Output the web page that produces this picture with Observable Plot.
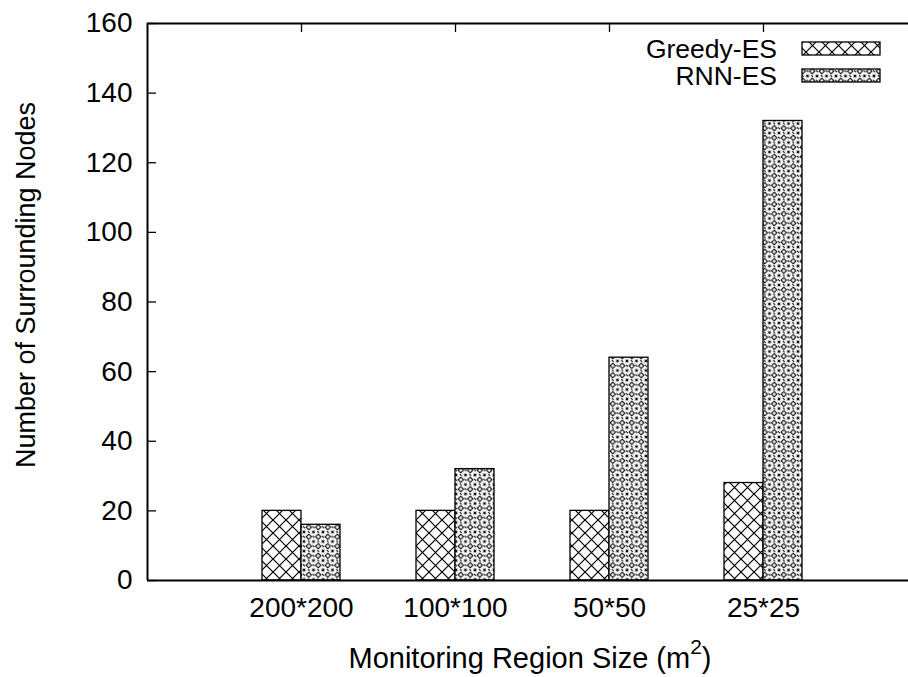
<!DOCTYPE html>
<html><head><meta charset="utf-8">
<script src="https://cdn.jsdelivr.net/npm/d3@7"></script>
<script src="https://cdn.jsdelivr.net/npm/@observablehq/plot@0.6"></script>
<style>body{margin:0;background:#fff;overflow:hidden} svg{display:block}</style>
</head><body><div id="chart"></div>
<script>
// ---- data ----
const categories = ["200*200", "100*100", "50*50", "25*25"];
const greedyES = [20, 20, 20, 28];
const rnnES = [16, 32, 64, 132];
const yTicks = [0, 20, 40, 60, 80, 100, 120, 140, 160];
const seriesNames = ["Greedy-ES", "RNN-ES"];
const xLabel = "Monitoring Region Size (m";
const yLabel = "Number of Surrounding Nodes";

// ---- layout ----
const W = 908, H = 677;
const mL = 147, mT = 23, mB = 97, mR = 0;
const pxPerCat = 154;
const xMax = (W - mL - mR) / pxPerCat;
const barW = 39 / pxPerCat;
const pxPerY = (H - mT - mB) / 160;
const tickLenX = 9 / pxPerCat, tickLenY = 9 / pxPerY;
const FONT = "'Liberation Sans', Arial, Helvetica, sans-serif";
const FS = 28;

const catPos = categories.map((c, i) => i + 1);
const greedyRows = categories.map((c, i) => ({cat: c, pos: i + 1, value: greedyES[i]}));
const rnnRows = categories.map((c, i) => ({cat: c, pos: i + 1, value: rnnES[i]}));

const chart = Plot.plot({
  width: W, height: H,
  marginLeft: mL, marginTop: mT, marginBottom: mB, marginRight: mR,
  style: {fontFamily: FONT, fontSize: FS + "px", color: "black", background: "white", overflow: "hidden"},
  x: {domain: [0, xMax], ticks: catPos, tickFormat: d => categories[d - 1], tickSize: 0, tickPadding: 17, label: null},
  y: {domain: [0, 160], ticks: yTicks, tickSize: 0, tickPadding: 15, label: null},
  marks: [
    Plot.rectY(greedyRows, {x1: d => d.pos - barW, x2: d => d.pos, y1: 0, y2: "value", fill: "url(#pat-greedy)", stroke: "black", strokeWidth: 1.3}),
    Plot.rectY(rnnRows, {x1: d => d.pos, x2: d => d.pos + barW, y1: 0, y2: "value", fill: "url(#pat-rnn)", stroke: "black", strokeWidth: 1.3}),
    // inward tick marks
    Plot.ruleY(yTicks, {y: d => d, x1: 0, x2: tickLenX, stroke: "black", strokeWidth: 1.3}),
    Plot.ruleX(catPos, {x: d => d, y1: 160, y2: 160 - tickLenY, stroke: "black", strokeWidth: 1.3}),
    // frame (right edge lies outside the picture)
    Plot.ruleY([0, 160], {stroke: "black", strokeWidth: 2}),
    Plot.ruleX([0], {stroke: "black", strokeWidth: 2})
  ]
});

const svg = d3.select(chart);
// patterns
const defs = svg.insert("defs", ":first-child");
const pg = defs.append("pattern").attr("id", "pat-greedy").attr("patternUnits", "userSpaceOnUse")
  .attr("width", 13).attr("height", 13);
pg.append("rect").attr("width", 13).attr("height", 13).attr("fill", "white");
pg.append("path").attr("d", "M-1,-1L14,14M14,-1L-1,14").attr("stroke", "black").attr("stroke-width", 1.2);

const pr = defs.append("pattern").attr("id", "pat-rnn").attr("patternUnits", "userSpaceOnUse")
  .attr("width", 9.5).attr("height", 9.5);
pr.append("rect").attr("width", 9.5).attr("height", 9.5).attr("fill", "white");
pr.append("path").attr("d", "M4.75,2.1L7.4,4.75L4.75,7.4L2.1,4.75Z").attr("fill", "none").attr("stroke", "black").attr("stroke-width", 1.1);
pr.append("path").attr("d",
  "M-1.3,-1.3L1.3,1.3M1.3,-1.3L-1.3,1.3M8.2,-1.3L10.8,1.3M10.8,-1.3L8.2,1.3M-1.3,8.2L1.3,10.8M1.3,8.2L-1.3,10.8M8.2,8.2L10.8,10.8M10.8,8.2L8.2,10.8" +
  "M3.8,-0.9L5.7,0.9M-0.9,3.8L0.9,5.7M8.6,3.8L10.4,5.7M3.8,8.6L5.7,10.4")
  .attr("stroke", "black").attr("stroke-width", 1.1);

// axis titles
svg.append("text").attr("transform", "translate(26,285) rotate(-90)")
  .attr("text-anchor", "middle").attr("dy", "0.35em")
  .attr("font-size", 27).attr("font-family", FONT).attr("fill", "black").text(yLabel);
const xt = svg.append("text").attr("x", 530).attr("y", 668)
  .attr("text-anchor", "middle").attr("font-size", 29).attr("font-family", FONT).attr("fill", "black");
xt.append("tspan").text(xLabel);
xt.append("tspan").attr("dy", -14).attr("font-size", 21).text("2");
xt.append("tspan").attr("dy", 14).text(")");

// legend
const legend = svg.append("g");
seriesNames.forEach((name, i) => {
  const cy = 48.5 + i * 27;
  legend.append("text").attr("x", 777).attr("y", cy).attr("dy", "0.35em").attr("text-anchor", "end")
    .attr("font-size", 26.5).attr("font-family", FONT).attr("fill", "black").text(name);
  legend.append("rect").attr("x", 802).attr("y", cy - 6.5).attr("width", 78).attr("height", 13)
    .attr("fill", i === 0 ? "url(#pat-greedy)" : "url(#pat-rnn)").attr("stroke", "black").attr("stroke-width", 1.3);
});

document.getElementById("chart").appendChild(chart);
</script>
</body></html>
